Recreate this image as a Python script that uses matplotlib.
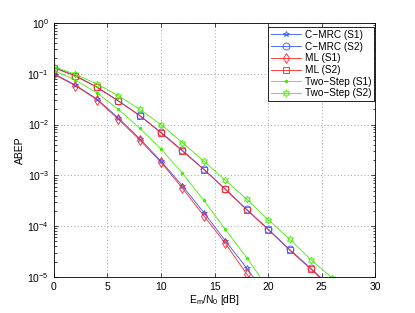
import matplotlib
matplotlib.use("Agg")
import matplotlib.pyplot as plt
import numpy as np

plt.rcParams['font.family'] = ['Liberation Sans', 'DejaVu Sans']
plt.rcParams['mathtext.fontset'] = 'custom'
plt.rcParams['mathtext.rm'] = 'Liberation Sans'
plt.rcParams['mathtext.it'] = 'Liberation Sans'

snr = [0, 2, 4, 6, 8, 10, 12, 14, 16, 18, 20, 22, 24, 26]

cmrc_s1 = [0.10, 0.060, 0.032, 0.0135, 0.0053, 0.0019, 6.2e-4, 1.85e-4, 5.2e-5, 1.5e-5, 4.0e-6]
cmrc_s2 = [0.132, 0.092, 0.055, 0.0295, 0.0152, 0.0070, 0.0031, 0.00132, 5.4e-4, 2.15e-4, 8.8e-5, 3.5e-5, 1.48e-5, 6.0e-6]
ml_s1 = [0.097, 0.058, 0.031, 0.0128, 0.0050, 0.0018, 5.6e-4, 1.6e-4, 4.6e-5, 1.15e-5, 3.0e-6]
ml_s2 = [0.130, 0.090, 0.054, 0.029, 0.0150, 0.0068, 0.0030, 0.00130, 5.3e-4, 2.1e-4, 8.6e-5, 3.4e-5, 1.42e-5, 5.8e-6]
ts_s1 = [0.115, 0.075, 0.042, 0.020, 0.0085, 0.0033, 0.0011, 3.2e-4, 8.7e-5, 2.4e-5, 6.0e-6]
ts_s2 = [0.137, 0.097, 0.063, 0.037, 0.020, 0.0099, 0.0044, 0.0019, 8.0e-4, 3.4e-4, 1.35e-4, 5.6e-5, 2.2e-5, 9.5e-6]

labels = ["C\u2212MRC (S1)", "C\u2212MRC (S2)", "ML (S1)", "ML (S2)", "Two\u2212Step (S1)", "Two\u2212Step (S2)"]
xticks = [0, 5, 10, 15, 20, 25, 30]

blue = "#3355ff"
red = "#ff2020"
green = "#44ee00"

fig = plt.figure(figsize=(4.15, 3.13), dpi=100)
ax = fig.add_axes([0.130, 0.115, 0.774, 0.812])

lw = 0.6
ms = 4
ax.semilogy(snr[:len(cmrc_s1)], cmrc_s1, color=blue, lw=lw, marker="*", ms=ms, mfc="none", mew=0.6, label=labels[0])
ax.semilogy(snr[:len(cmrc_s2)], cmrc_s2, color=blue, lw=lw, marker="o", ms=ms + 1, mfc="none", mew=0.6, label=labels[1])
ax.semilogy(snr[:len(ml_s1)], ml_s1, color=red, lw=lw, marker="d", ms=ms + 1, mfc="none", mew=0.6, label=labels[2])
ax.semilogy(snr[:len(ml_s2)], ml_s2, color=red, lw=lw, marker="s", ms=ms, mfc="none", mew=0.6, label=labels[3])
ax.semilogy(snr[:len(ts_s1)], ts_s1, color=green, lw=lw, marker=".", ms=3, label=labels[4])
ax.semilogy(snr[:len(ts_s2)], ts_s2, color=green, lw=lw, marker=(6, 1, 0), ms=ms + 1, mfc="none", mew=0.6, label=labels[5])

ax.set_xlim(0, 30)
ax.set_ylim(1e-5, 1)
ax.set_xticks(xticks)
ax.tick_params(which="both", direction="in", top=True, right=True, labelsize=7.5, width=0.5)
ax.tick_params(which="major", length=3)
ax.tick_params(which="minor", length=1.8)
ax.grid(True, which="major", linestyle=(0, (1, 3)), color="#888888", lw=0.6)
for s in ax.spines.values():
    s.set_linewidth(0.6)

ax.set_xlabel("E$_m$/N$_0$ [dB]", fontsize=7.5, labelpad=1)
ax.set_ylabel("ABEP", fontsize=7.5, labelpad=2)

leg = ax.legend(loc="upper right", bbox_to_anchor=(0.997, 0.984), fontsize=7.2, fancybox=False,
                edgecolor="black", framealpha=1, borderaxespad=0.0, handlelength=3.0,
                labelspacing=0.17, borderpad=0.3, handletextpad=0.4)
leg.get_frame().set_linewidth(0.6)

fig.savefig("out.png", dpi=100)
